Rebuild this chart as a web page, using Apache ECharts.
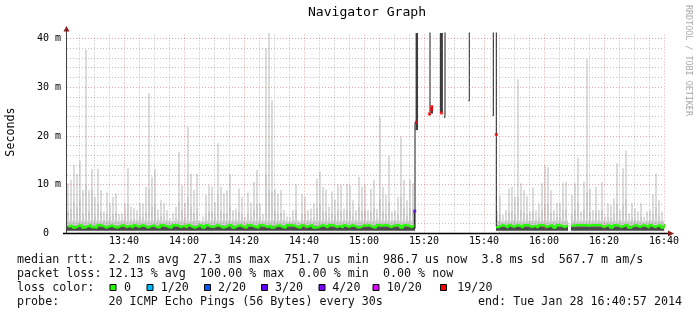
<!DOCTYPE html>
<html><head><meta charset="utf-8">
<script src="https://cdn.jsdelivr.net/npm/echarts@6/dist/echarts.min.js"></script>
<style>html,body{margin:0;padding:0;background:#fff;overflow:hidden}#chart{width:697px;height:315px}</style>
</head><body><div id="chart"></div>
<script>
// ---------------- data ----------------
const firstMinute = 801;   // 13:21, first one-minute sample (minutes of the day)
const lastMinute = 1000;   // 16:40

// highest ping of each minute (ms) – light smoke
const smokeMax = [
  10.3, 11.0, 14.0, 12.2, 15.0, 8.9, 37.7, 8.9, 13.2, 7.5,      // 13:21
  13.3, 8.9, 4.5, 8.4, 6.2, 7.5, 8.2, 4.0, 4.1, 6.2,            // 13:31
  13.4, 5.5, 5.2, 4.8, 6.3, 6.2, 9.6, 28.8, 11.6, 13.2,         // 13:41
  4.9, 6.8, 6.2, 4.8, 3.1, 4.2, 5.5, 16.8, 9.9, 6.2,            // 13:51
  21.9, 12.3, 8.9, 12.3, 2.7, 3.5, 7.9, 9.9, 9.6, 6.5,          // 14:01
  18.5, 9.6, 8.2, 8.9, 12.2, 4.8, 5.1, 9.2, 7.5, 3.4,           // 14:11
  8.4, 6.3, 10.6, 13.0, 6.2, 4.0, 38.0, 41.2, 27.3, 9.0,        // 14:21
  8.2, 8.9, 4.8, 3.5, 3.4, 4.8, 10.1, 2.7, 8.1, 7.5,            // 14:31
  4.8, 5.1, 6.2, 11.2, 12.7, 9.6, 9.0, 5.5, 8.6, 6.9,           // 14:41
  10.1, 9.9, 5.1, 10.1, 9.9, 6.8, 4.8, 11.6, 9.6, 10.0,         // 14:51
  4.8, 9.2, 11.0, 5.0, 24.0, 9.6, 7.9, 15.9, 4.5, 4.8,          // 15:01
  7.5, 19.9, 11.0, 6.8, 11.0, 10.3, null, null, null, null,     // 15:11
  null, null, null, null, null, null, null, null, null, null,   // 15:21
  null, null, null, null, null, null, null, null, null, null,   // 15:31
  null, null, null, 4.5, 7.7, 3.8, 4.8, 9.2, 9.6, 7.5,          // 15:41
  31.6, 10.3, 8.9, 7.7, 4.5, 9.4, 4.8, 6.2, 10.3, 14.0,         // 15:51
  13.6, 8.9, 4.8, 6.3, 6.2, 10.4, 10.6, null, 7.9, 10.3,        // 16:01
  15.5, 4.5, 10.6, 35.7, 9.2, 4.8, 9.6, 4.8, 10.5, 3.5,         // 16:11
  6.2, 5.8, 7.2, 14.4, 4.8, 13.4, 17.0, 4.1, 6.2, 5.1,          // 16:21
  4.5, 6.2, 3.4, 4.5, 4.8, 7.9, 12.3, 6.8, 4.5, 3.5             // 16:31
];
// upper quartile of each minute (ms) – denser smoke
const smokeMid = [
  4.5, 5.0, 6.5, 5.5, 7.0, 4.0, 10.0, 4.5, 9.0, 3.5,
  6.0, 4.5, 2.8, 4.0, 3.5, 3.8, 4.2, 2.6, 2.8, 3.5,
  6.0, 3.0, 3.0, 2.8, 3.5, 3.4, 4.5, 9.0, 5.5, 6.0,
  3.0, 3.6, 3.4, 2.8, 2.4, 2.6, 3.2, 6.5, 4.8, 3.4,
  7.5, 5.5, 4.2, 5.2, 2.2, 2.4, 3.8, 4.6, 4.4, 3.4,
  8.0, 4.6, 4.0, 4.2, 5.5, 2.8, 3.0, 4.5, 3.8, 2.4,
  4.0, 3.4, 5.0, 6.0, 3.4, 2.6, 12.0, 9.0, 8.5, 4.5,
  4.0, 4.2, 2.8, 2.4, 2.4, 2.8, 4.8, 2.2, 4.0, 3.8,
  2.8, 3.0, 3.4, 5.2, 6.0, 4.6, 4.4, 3.2, 4.2, 3.6,
  4.8, 4.6, 3.0, 4.8, 4.6, 3.6, 2.8, 5.4, 4.6, 4.8,
  2.8, 4.4, 5.2, 3.0, 7.0, 4.6, 3.8, 6.5, 2.6, 2.8,
  3.8, 7.5, 5.2, 3.6, 5.2, 4.8, null, null, null, null,
  null, null, null, null, null, null, null, null, null, null,
  null, null, null, null, null, null, null, null, null, null,
  null, null, null, 2.6, 3.8, 2.4, 2.8, 4.4, 4.6, 3.8,
  7.5, 4.8, 4.2, 3.8, 2.6, 4.5, 2.8, 3.4, 4.8, 6.0,
  6.0, 4.2, 2.8, 3.4, 3.4, 4.8, 5.0, null, 3.8, 4.8,
  6.5, 2.6, 5.0, 8.5, 4.4, 2.8, 4.6, 2.8, 4.8, 2.4,
  3.4, 3.2, 3.8, 6.0, 2.8, 5.8, 7.0, 2.6, 3.4, 3.0,
  2.6, 3.4, 2.4, 2.6, 2.8, 3.8, 5.4, 3.6, 2.6, 2.4
];
// median rtt of each minute (ms), 0 % loss
const medianRtt = [
  1.3, 1.7, 1.2, 1.6, 1.7, 1.2, 1.5, 1.8, 1.3, 1.2,
  1.7, 1.6, 1.2, 1.4, 1.7, 1.3, 1.2, 1.6, 1.7, 1.3,
  1.6, 1.2, 1.7, 1.3, 1.7, 1.6, 1.2, 1.5, 1.7, 1.3,
  1.2, 1.7, 1.6, 1.3, 1.2, 1.7, 1.7, 1.3, 1.6, 1.2,
  1.7, 1.3, 1.2, 1.6, 1.7, 1.2, 1.7, 1.4, 1.3, 1.7,
  1.6, 1.2, 1.3, 1.7, 1.7, 1.2, 1.6, 1.7, 1.3, 1.2,
  1.7, 1.6, 1.3, 1.2, 1.7, 1.6, 1.3, 1.7, 1.2, 1.6,
  1.7, 1.3, 1.2, 1.7, 1.7, 1.6, 1.3, 1.2, 1.7, 1.3,
  1.6, 1.7, 1.2, 1.3, 1.7, 1.6, 1.2, 1.7, 1.7, 1.3,
  1.6, 1.2, 1.7, 1.3, 1.7, 1.6, 1.2, 1.3, 1.7, 1.6,
  1.7, 1.3, 1.2, 1.7, 1.6, 1.7, 1.7, 1.3, 1.6, 1.7,
  1.7, 1.2, 1.7, 1.6, 1.3, 1.7, null, null, null, null,
  null, null, null, null, null, null, null, null, null, null,
  null, null, null, null, null, null, null, null, null, null,
  null, null, null, 1.3, 1.7, 1.6, 1.2, 1.7, 1.3, 1.7,
  1.6, 1.2, 1.7, 1.7, 1.3, 1.6, 1.2, 1.7, 1.7, 1.3,
  1.6, 1.7, 1.2, 1.7, 1.6, 1.3, 1.7, null, 1.6, 1.7,
  1.7, 1.7, 1.7, 1.6, 1.7, 1.7, 1.7, 1.7, 1.3, 1.6,
  1.7, 1.2, 1.7, 1.6, 1.3, 1.7, 1.7, 1.2, 1.6, 1.7,
  1.3, 1.7, 1.6, 1.2, 1.7, 1.3, 1.6, 1.7, 1.2, 1.7
];
// outage period 15:17 – 15:44: very slow samples  [from, to, low ms, high ms]
const outageSmoke = [
  [916.6, 917.0, 0.9, 4.5],
  [917.2, 918.0, 21.2, 60],
  [922.3, 923.0, 24.6, 26.0],
  [925.3, 926.3, 24.8, 60]
];
// median line pieces during the outage [[minute, ms], ...]
const outageMedian = [
  [[917.0, 1.0], [917.0, 22.8]],
  [[922.0, 60], [922.0, 24.3], [921.7, 24.3]],
  [[927.0, 60], [927.0, 23.8], [926.7, 23.8]],
  [[935.1, 60], [935.1, 27.2], [934.8, 27.2]],
  [[943.1, 60], [943.1, 24.2], [942.8, 24.2]],
  [[944.1, 60], [944.1, 1.5]]
];
// medians drawn with a loss colour [minute, ms, loss]
const lossMarks = [
  [917.5, 22.8, '19/20'], [922.6, 26.0, '19/20'], [922.5, 25.4, '19/20'], [921.8, 24.5, '19/20'],
  [925.8, 24.7, '19/20'], [944.1, 20.3, '19/20'], [916.9, 4.6, '3/20']
];
const timeTicks = [820, 840, 860, 880, 900, 920, 940, 960, 980, 1000];
const timeMinorTicks = [805, 810, 815, 825, 830, 835, 845, 850, 855, 865, 870, 875, 885, 890, 895,
  905, 910, 915, 925, 930, 935, 945, 950, 955, 965, 970, 975, 985, 990, 995];
const rttTicks = [0, 10, 20, 30, 40];
const rttMinorTicks = [2, 4, 6, 8, 12, 14, 16, 18, 22, 24, 26, 28, 32, 34, 36, 38];
const rttMax = 41.1;
const lossLabels = ['0', '1/20', '2/20', '3/20', '4/20', '10/20', '19/20'];
const lossColors = ['#26ff00', '#00b8ff', '#0059ff', '#5e00ff', '#7e00ff', '#dd00ff', '#ff0000'];
const titleText = 'Navigator Graph';
const statRows = [
  'median rtt:  2.2 ms avg  27.3 ms max  751.7 us min  986.7 us now  3.8 ms sd  567.7 m am/s',
  'packet loss: 12.13 % avg  100.00 % max  0.00 % min  0.00 % now'
];
const probeText = 'probe:       20 ICMP Echo Pings (56 Bytes) every 30s';
const endText = 'end: Tue Jan 28 16:40:57 2014';
const smokeFloor = 0.5, baseSmoke = 2.6, bandTop = 1.6, bandInLow = 0.7, bandInTop = 1.3;

// ---------------- chart ----------------
const G = {left: 67, top: 33, right: 33, bottom: 81.5};
const W = 697, H = 315;
const mono = '"DejaVu Sans Mono", monospace';
const minuteLabel = m => Math.floor(m / 60) + ':' + String(m % 60).padStart(2, '0');
const lossColor = l => lossColors[lossLabels.indexOf(l)];

const bucketData = [];
smokeMax.forEach((v, i) => { if (v != null) bucketData.push([firstMinute + i, firstMinute + i + 1, v, smokeMid[i]]); });
const medianData = medianRtt.map((v, i) => [firstMinute + i + 0.5, v]);

function rect(api, params, t0, t1, lo, hi, fill) {
  if (hi <= lo) return null;
  const cs = params.coordSys;
  const a = api.coord([t0, hi]), b = api.coord([t1, lo]);
  const shape = echarts.graphic.clipRectByRect(
    {x: a[0], y: a[1], width: b[0] - a[0], height: b[1] - a[1]},
    {x: cs.x, y: cs.y, width: cs.width, height: cs.height});
  return shape ? {type: 'rect', shape: shape, style: {fill: fill}} : null;
}

const series = [
  {
    type: 'custom', z: 2, silent: true, data: bucketData, encode: {x: [0, 1], y: [2, 3]},
    renderItem: (params, api) => {
      const t0 = api.value(0), t1 = api.value(1), hi = api.value(2), mid = api.value(3);
      const tn = t0 + (t1 - t0) * 0.67;   // spikes are one sample (2 px) wide
      return {type: 'group', children: [
        rect(api, params, t0, t1, smokeFloor, Math.min(hi, baseSmoke), '#dcdcdc'),
        rect(api, params, t0, tn, baseSmoke, hi, '#dcdcdc'),
        rect(api, params, t0, t1, smokeFloor, Math.min(mid, baseSmoke), '#cccccc'),
        rect(api, params, t0, tn, baseSmoke, mid, '#cccccc'),
        rect(api, params, t0, t1, smokeFloor, bandTop, '#7a7a7a'),
        rect(api, params, t0, t1, bandInLow, bandInTop, '#474747')
      ].filter(Boolean)};
    }
  },
  {
    type: 'custom', z: 2, silent: true, data: outageSmoke, encode: {x: [0, 1], y: [2, 3]},
    renderItem: (params, api) => {
      const r = rect(api, params, api.value(0), api.value(1), api.value(2), api.value(3), '#3c3c3c');
      return r || {type: 'group', children: []};
    }
  },
  {
    type: 'line', z: 3, silent: true, data: [],
    markLine: {silent: true, animation: false, symbol: ['none', 'none'], label: {show: false},
      lineStyle: {color: 'rgba(128,128,128,0.5)', width: 1, type: [1, 2]},
      data: timeMinorTicks.map(v => ({xAxis: v})).concat(rttMinorTicks.map(v => ({yAxis: v})))}
  },
  {
    type: 'line', z: 3, silent: true, data: [],
    markLine: {silent: true, animation: false, symbol: ['none', 'none'], label: {show: false},
      lineStyle: {color: 'rgba(220,80,80,0.5)', width: 1, type: [1, 2]},
      data: timeTicks.map(v => ({xAxis: v})).concat(rttTicks.filter(v => v > 0).map(v => ({yAxis: v})))}
  },
  {
    type: 'line', z: 4, silent: true, data: medianData, step: 'middle', showSymbol: false,
    connectNulls: false, lineStyle: {color: lossColors[0], width: 2.2}
  }
].concat(outageMedian.map(seg => ({
  type: 'line', z: 4, silent: true, data: seg, showSymbol: false, clip: true,
  lineStyle: {color: '#1a1a1a', width: 1}
}))).concat([{
  type: 'scatter', z: 5, silent: true, symbol: 'rect', symbolSize: [3, 3],
  data: lossMarks.map(d => ({value: [d[0], d[1]], itemStyle: {color: lossColor(d[2])}}))
}]);

const txt = (x, y, text, size, extra) => Object.assign({
  type: 'text', x: x, y: y, z: 100,
  style: {text: text, font: size + 'px ' + mono, fill: '#111', align: 'left', verticalAlign: 'middle',
    textAlign: 'left', textVerticalAlign: 'middle'}
}, extra || {});

const plotBottom = H - G.bottom, plotRight = W - G.right;
const graphics = [
  txt(367, 13, titleText, 13.1, {style: {text: titleText, font: '13.1px ' + mono, fill: '#000', align: 'center', textAlign: 'center', verticalAlign: 'middle', textVerticalAlign: 'middle'}}),
  txt(11, 132, 'Seconds', 11.7, {rotation: Math.PI / 2, style: {text: 'Seconds', font: '11.7px ' + mono, fill: '#000', align: 'center', textAlign: 'center', verticalAlign: 'middle', textVerticalAlign: 'middle'}}),
  txt(688, 5, 'RRDTOOL / TOBI OETIKER', 8.4, {rotation: -Math.PI / 2, style: {text: 'RRDTOOL / TOBI OETIKER', font: '8.4px ' + mono, fill: '#a8a8a8', align: 'left', textAlign: 'left', verticalAlign: 'middle', textVerticalAlign: 'middle'}}),
  txt(17, 259.5, statRows[0], 11.7),
  txt(17, 273.5, statRows[1], 11.7),
  txt(17, 287.5, 'loss color:', 11.7),
  txt(17, 301.5, probeText, 11.7),
  txt(478, 301.5, endText, 11.7),
  // axes
  {type: 'line', z: 100, shape: {x1: G.left - 0.5, y1: plotBottom, x2: G.left - 0.5, y2: G.top - 3}, style: {stroke: '#404040', lineWidth: 1}},
  {type: 'line', z: 100, shape: {x1: G.left - 4, y1: plotBottom, x2: plotRight + 5, y2: plotBottom}, style: {stroke: '#000', lineWidth: 1.5}},
  {type: 'polygon', z: 101, shape: {points: [[G.left - 0.5, G.top - 7], [G.left - 3.5, G.top - 1.5], [G.left + 2.5, G.top - 1.5]]}, style: {fill: '#8b1c1c'}},
  {type: 'polygon', z: 101, shape: {points: [[plotRight + 10, plotBottom], [plotRight + 4, plotBottom - 3], [plotRight + 4, plotBottom + 3]]}, style: {fill: '#8b1c1c'}}
];
const squareX = [109.5, 146.5, 204, 261, 318.5, 372.5, 440];
const labelX = [124, 160.7, 218, 275, 332.3, 386.7, 457.3];
lossLabels.forEach((l, i) => {
  graphics.push({type: 'rect', z: 100, shape: {x: squareX[i] + 0.5, y: 284.5, width: 6, height: 6}, style: {fill: lossColors[i], stroke: '#000', lineWidth: 1}});
  graphics.push(txt(labelX[i], 287.5, l, 11.7));
});

const chart = echarts.init(document.getElementById('chart'), null, {renderer: 'canvas'});
chart.setOption({
  animation: false,
  backgroundColor: '#fff',
  grid: {left: G.left, top: G.top, right: G.right, bottom: G.bottom, containLabel: false, outerBoundsMode: 'none'},
  xAxis: {
    type: 'value', min: firstMinute, max: lastMinute,
    axisLine: {show: false}, axisTick: {show: false}, splitLine: {show: false},
    axisLabel: {customValues: timeTicks, formatter: v => minuteLabel(v), fontFamily: mono, fontSize: 10, color: '#000', margin: 3}
  },
  yAxis: {
    type: 'value', min: 0, max: rttMax,
    axisLine: {show: false}, axisTick: {show: false}, splitLine: {show: false},
    axisLabel: {customValues: rttTicks, formatter: v => v === 0 ? '0  ' : v + ' m', fontFamily: mono, fontSize: 10, color: '#000', margin: 6}
  },
  series: series,
  graphic: graphics
});
</script></body></html>
